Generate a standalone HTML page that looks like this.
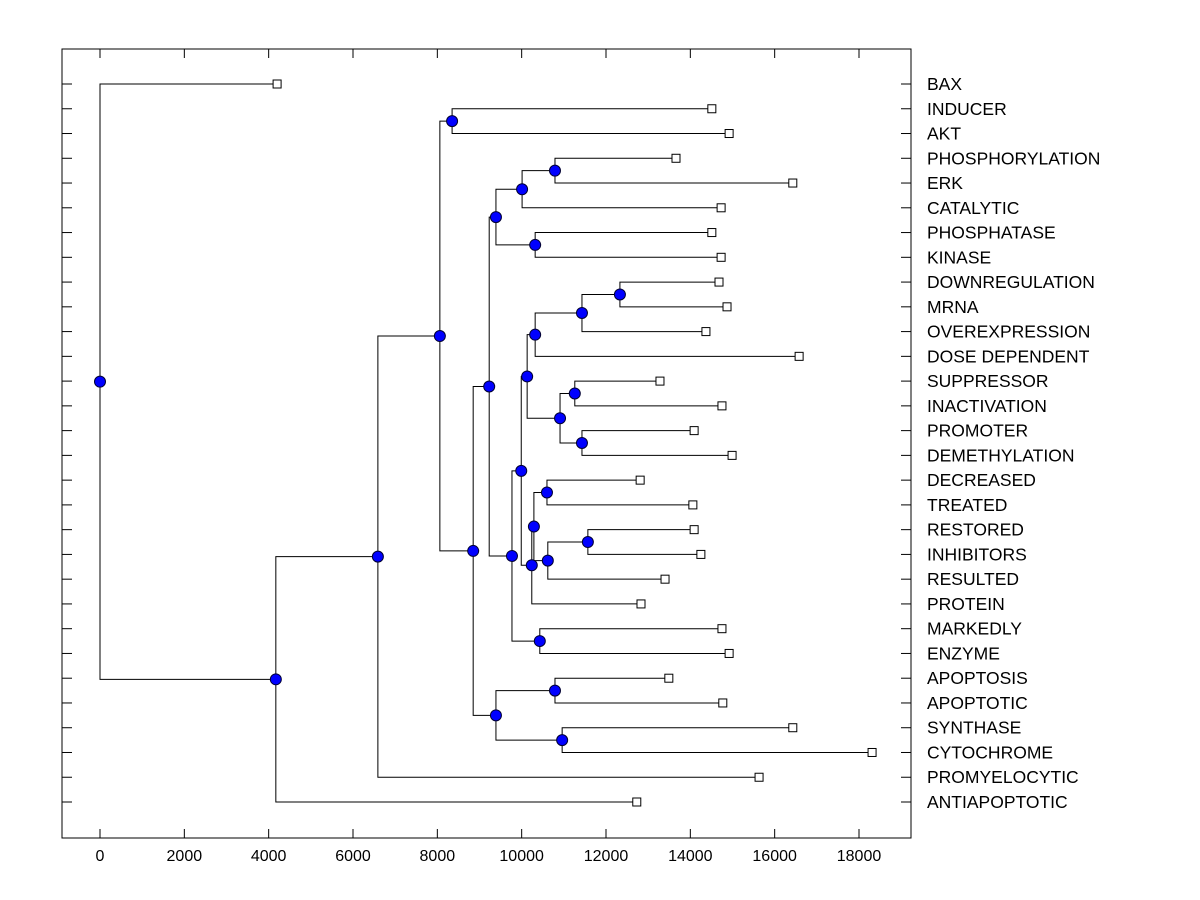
<!DOCTYPE html>
<html><head><meta charset="utf-8"><style>
body{margin:0;background:#fff;}
svg{display:block;font-family:"Liberation Sans",Arial,sans-serif;}
</style></head><body>
<svg id="chart" width="1200" height="900" xmlns="http://www.w3.org/2000/svg">
<rect x="0" y="0" width="1200" height="900" fill="#fff"/>
<rect x="62" y="49" width="849" height="789" fill="none" stroke="#000" stroke-width="1"/>
<g id="axes"></g>
<g id="links"></g>
<g id="marks"></g>
</svg>
<script>
const leafLabels = ["BAX","INDUCER","AKT","PHOSPHORYLATION","ERK","CATALYTIC","PHOSPHATASE","KINASE","DOWNREGULATION","MRNA","OVEREXPRESSION","DOSE DEPENDENT","SUPPRESSOR","INACTIVATION","PROMOTER","DEMETHYLATION","DECREASED","TREATED","RESTORED","INHIBITORS","RESULTED","PROTEIN","MARKEDLY","ENZYME","APOPTOSIS","APOPTOTIC","SYNTHASE","CYTOCHROME","PROMYELOCYTIC","ANTIAPOPTOTIC"];
const leafValues = [4200,14510,14920,13660,16430,14730,14510,14730,14680,14870,14370,16580,13280,14750,14090,14990,12810,14060,14090,14250,13400,12830,14750,14920,13490,14770,16430,18310,15630,12730];
// internal nodes: [name, value, childA, childB]; children are leaf labels or node names
const nodeNames = ["root","A","B","C","D","E","F","H","J","L","K","I","P","M","S","U","V","T","W","X","Q","Y","Z","AA","BB","R","G","CC","DD"];
const nodeValues = [0,4170,6590,8060,8350,8850,9230,9390,10010,10790,10320,9770,9990,10130,10320,11430,12330,10910,11260,11430,10240,10290,10600,10620,11570,10430,9390,10790,10960];
const nodeChildren = [["BAX","A"],["B","ANTIAPOPTOTIC"],["C","PROMYELOCYTIC"],["D","E"],["INDUCER","AKT"],["F","G"],["H","I"],["J","K"],["L","CATALYTIC"],["PHOSPHORYLATION","ERK"],["PHOSPHATASE","KINASE"],["P","R"],["M","Q"],["S","T"],["U","DOSE DEPENDENT"],["V","OVEREXPRESSION"],["DOWNREGULATION","MRNA"],["W","X"],["SUPPRESSOR","INACTIVATION"],["PROMOTER","DEMETHYLATION"],["Y","PROTEIN"],["Z","AA"],["DECREASED","TREATED"],["BB","RESULTED"],["RESTORED","INHIBITORS"],["MARKEDLY","ENZYME"],["CC","DD"],["APOPTOSIS","APOPTOTIC"],["SYNTHASE","CYTOCHROME"]];
const xTicks = [0,2000,4000,6000,8000,10000,12000,14000,16000,18000];

const NS="http://www.w3.org/2000/svg";
const xScale = v => 100 + v*(759/18000);
const yScale = i => 84 + i*(718/29);
function mk(tag, attrs, parent){const e=document.createElementNS(NS,tag);for(const k in attrs)e.setAttribute(k,attrs[k]);parent.appendChild(e);return e;}
const axes=document.getElementById('axes'), links=document.getElementById('links'), marks=document.getElementById('marks');

xTicks.forEach(t=>{
  const x=xScale(t);
  let l=mk('line',{x1:x,x2:x,y1:49,y2:58,stroke:'#000'},axes);
  
  
  l=mk('line',{x1:x,x2:x,y1:829,y2:838,stroke:'#000'},axes);
  
  
  const tx=mk('text',{x:x,y:861,'text-anchor':'middle','font-size':'16'},axes);
  tx.textContent=t;
  
  
});
leafLabels.forEach((lab,i)=>{
  const y=yScale(i);
  let l=mk('line',{x1:62,x2:72,y1:y,y2:y,stroke:'#000'},axes);
  
  
  l=mk('line',{x1:901,x2:911,y1:y,y2:y,stroke:'#000'},axes);
  
  
  const tx=mk('text',{x:927,y:y+6,'font-size':'17.5'},axes);
  tx.textContent=lab;
  
  
});

const pos={};
leafLabels.forEach((lab,i)=>{pos[lab]={x:xScale(leafValues[i]),leaf:true,idx:i};});
nodeNames.forEach((n,i)=>{pos[n]={x:xScale(nodeValues[i]),leaf:false,ch:nodeChildren[i]};});
function getY(n){const p=pos[n];if(p.y!==undefined)return p.y;p.y=p.leaf?yScale(p.idx):(getY(p.ch[0])+getY(p.ch[1]))/2;return p.y;}
nodeNames.forEach(getY);

nodeNames.forEach(n=>{
  const p=pos[n];
  const a=pos[p.ch[0]], b=pos[p.ch[1]];
  const path=mk('path',{d:`M${a.x},${a.y}H${p.x}V${b.y}H${b.x}`,fill:'none',stroke:'#000','stroke-width':'1'},links);
  
  
});
leafLabels.forEach(lab=>{
  const p=pos[lab];
  const r=mk('rect',{x:p.x-4,y:p.y-4,width:8,height:8,fill:'#fff',stroke:'#000'},marks);
  
  
});
nodeNames.forEach(n=>{
  const p=pos[n];
  const c=mk('circle',{cx:p.x,cy:p.y,r:5.5,fill:'#0000ff',stroke:'#000033','stroke-width':'1'},marks);
  
  
});
</script>
</body></html>
